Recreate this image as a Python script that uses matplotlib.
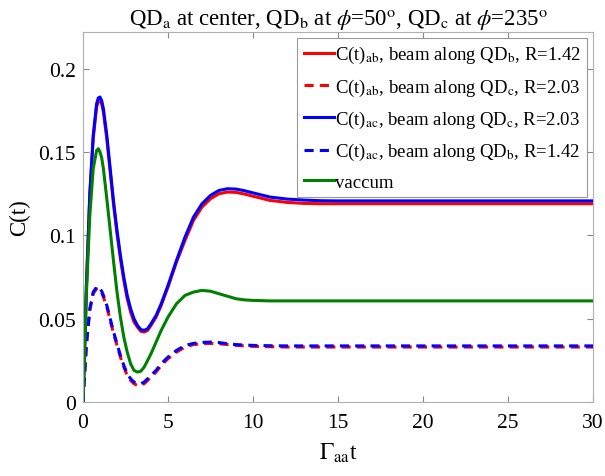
import matplotlib
matplotlib.use('Agg')
import matplotlib.pyplot as plt

plt.rcParams['font.family'] = ['Liberation Serif', 'DejaVu Serif']
plt.rcParams['mathtext.fontset'] = 'stix'

# time axis (Gamma_aa t)
t = [0, 0.2, 0.4, 0.6, 0.8, 0.9, 1.0, 1.1, 1.2, 1.4, 1.6, 1.8, 2.0, 2.2, 2.4,
     2.6, 2.8, 3.0, 3.2, 3.4, 3.6, 3.8, 4.0, 4.3, 4.6, 5.0, 5.5, 6.0, 6.5, 7.0,
     7.5, 8.0, 8.5, 9.0, 9.5, 10, 11, 12, 13, 14, 15, 17, 20, 25, 30]

# C(t)_ab, beam along QD_b, R=1.42
ab_b = [0, 0.069, 0.124, 0.158, 0.177, 0.1805, 0.181, 0.1788, 0.174, 0.158,
        0.138, 0.118, 0.101, 0.086, 0.073, 0.062, 0.054, 0.048, 0.045, 0.0425,
        0.042, 0.043, 0.046, 0.051, 0.058, 0.069, 0.084, 0.097, 0.109, 0.117,
        0.122, 0.125, 0.126, 0.1258, 0.1248, 0.1235, 0.121, 0.1198, 0.1192,
        0.119, 0.119, 0.119, 0.119, 0.119, 0.119]
# C(t)_ab, beam along QD_c, R=2.03
ab_c = [0, 0.034, 0.055, 0.065, 0.068, 0.0683, 0.067, 0.0655, 0.063, 0.057,
        0.049, 0.041, 0.034, 0.027, 0.021, 0.016, 0.013, 0.011, 0.010, 0.010,
        0.011, 0.013, 0.015, 0.018, 0.022, 0.026, 0.030, 0.033, 0.0345, 0.035,
        0.0352, 0.035, 0.0345, 0.034, 0.0337, 0.0334, 0.0332, 0.033, 0.033,
        0.033, 0.033, 0.033, 0.033, 0.033, 0.033]
# C(t)_ac, beam along QD_c, R=2.03
ac_c = [0, 0.070, 0.125, 0.160, 0.179, 0.1825, 0.183, 0.1808, 0.176, 0.160,
        0.140, 0.120, 0.103, 0.088, 0.075, 0.064, 0.056, 0.050, 0.046, 0.0435,
        0.043, 0.044, 0.047, 0.052, 0.059, 0.070, 0.085, 0.099, 0.111, 0.119,
        0.124, 0.127, 0.128, 0.1278, 0.1268, 0.1255, 0.123, 0.1218, 0.1212,
        0.1208, 0.1207, 0.1207, 0.1207, 0.1207, 0.1207]
# C(t)_ac, beam along QD_b, R=1.42
ac_b = [0, 0.035, 0.056, 0.066, 0.069, 0.0693, 0.068, 0.0665, 0.064, 0.058,
        0.050, 0.042, 0.035, 0.028, 0.022, 0.017, 0.014, 0.012, 0.011, 0.011,
        0.012, 0.014, 0.016, 0.019, 0.023, 0.027, 0.031, 0.034, 0.0352, 0.0358,
        0.036, 0.0357, 0.035, 0.0345, 0.0342, 0.034, 0.0338, 0.0337, 0.0337,
        0.0337, 0.0337, 0.0337, 0.0337, 0.0337, 0.0337]
# vaccum
vac = [0, 0.065, 0.112, 0.140, 0.151, 0.152, 0.150, 0.1465, 0.140, 0.122,
       0.103, 0.084, 0.066, 0.051, 0.039, 0.030, 0.023, 0.019, 0.018, 0.0185,
       0.021, 0.025, 0.029, 0.036, 0.043, 0.051, 0.059, 0.064, 0.066, 0.067,
       0.0665, 0.065, 0.0635, 0.062, 0.0613, 0.061, 0.0607, 0.0607, 0.0607,
       0.0607, 0.0607, 0.0607, 0.0607, 0.0607, 0.0607]

labels = [r'C(t)$_\mathrm{ab}$, beam along QD$_\mathrm{b}$, R=1.42',
          r'C(t)$_\mathrm{ab}$, beam along QD$_\mathrm{c}$, R=2.03',
          r'C(t)$_\mathrm{ac}$, beam along QD$_\mathrm{c}$, R=2.03',
          r'C(t)$_\mathrm{ac}$, beam along QD$_\mathrm{b}$, R=1.42',
          'vaccum']

fig = plt.figure(figsize=(6.05, 4.77), dpi=100)
ax = fig.add_axes([0.1372, 0.155, 0.843, 0.7757])

lw = 2.2
ax.plot(t, ab_b, color='#ff0000', lw=lw, label=labels[0])
ax.plot(t, ab_c, color='#ff0000', lw=lw, ls='--', dashes=(3, 2), label=labels[1])
ax.plot(t, ac_c, color='#0000ff', lw=lw, label=labels[2])
ax.plot(t, ac_b, color='#0000ff', lw=lw, ls='--', dashes=(3, 2), label=labels[3])
ax.plot(t, vac, color='#008000', lw=lw, label=labels[4])

ax.set_xlim(0, 30)
ax.set_ylim(0, 0.222)
ax.set_xticks([0, 5, 10, 15, 20, 25, 30])
ax.set_yticks([0, 0.05, 0.1, 0.15, 0.2])
ax.set_yticklabels(['0', '0.05', '0.1', '0.15', '0.2'])
ax.tick_params(direction='in', top=True, right=True, labelsize=15.5,
               color='#888888', length=4)
ax.tick_params(axis='x', pad=8)
ax.tick_params(axis='y', pad=5)
for s in ax.spines.values():
    s.set_color('#b0b0b0')

ax.set_xlabel(r'$\Gamma_\mathrm{aa}$t', fontsize=17, labelpad=6)
ax.set_ylabel('C(t)', fontsize=16.5, labelpad=6)
ax.set_title(r'QD$_\mathrm{a}$ at center, QD$_\mathrm{b}$ at $\phi$=50$^\mathrm{o}$, '
             r'QD$_\mathrm{c}$ at $\phi$=235$^\mathrm{o}$', fontsize=16.5, pad=5)

leg = ax.legend(loc='upper right', fontsize=13.5, handlelength=1.6,
                handletextpad=0.05, labelspacing=0.6, borderpad=0.35,
                borderaxespad=0.3, fancybox=False, framealpha=1)
leg.get_frame().set_edgecolor('#999999')
leg.get_frame().set_linewidth(0.8)

fig.savefig('out.png', dpi=100)
